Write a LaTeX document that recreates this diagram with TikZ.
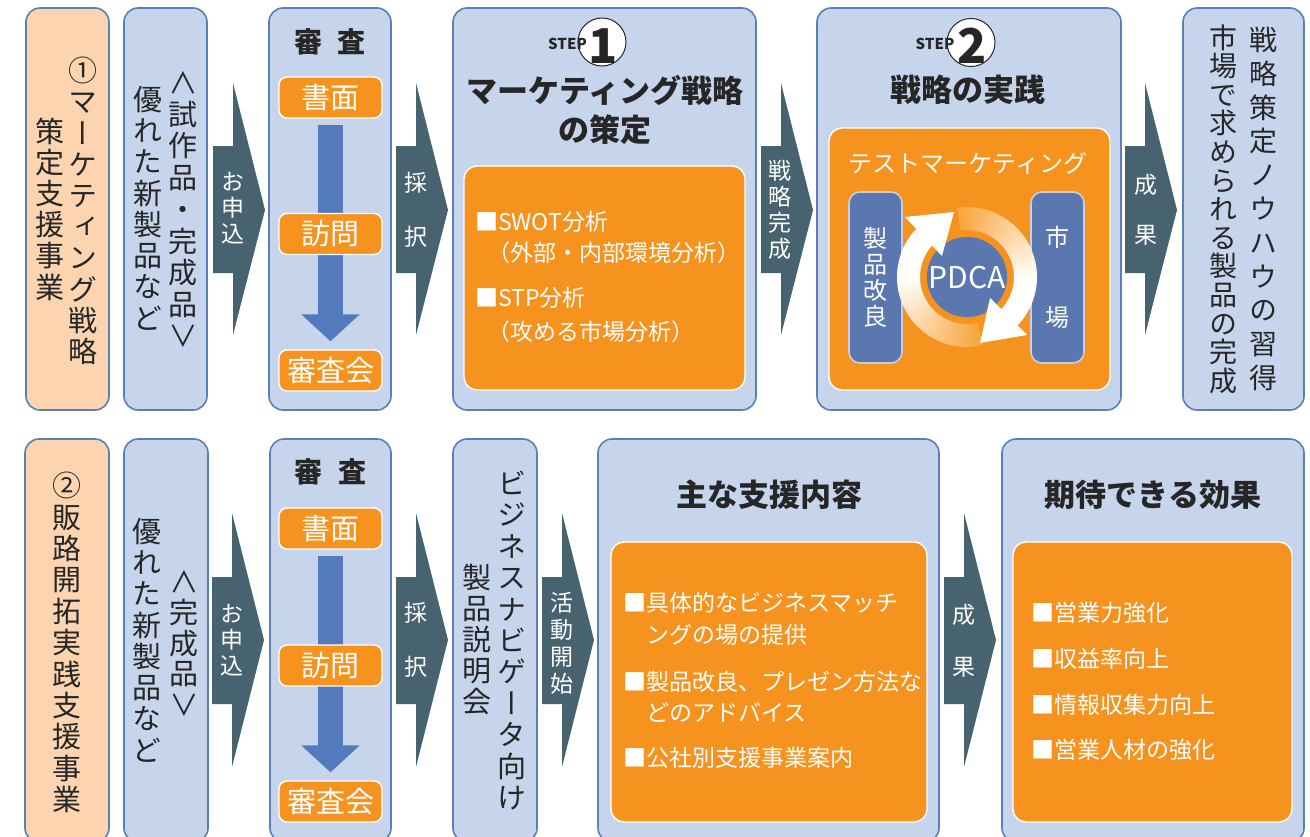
\documentclass[tikz,border=0pt]{standalone}
\usepackage{graphicx}
\usepackage{fontspec}
\setmainfont{Noto Sans CJK JP}
\newfontfamily\tatefont{Noto Sans CJK JP}[RawFeature=+vert]
\usepackage{xcolor}
\usetikzlibrary{arrows.meta}

\definecolor{paleblue}{HTML}{C6D5EC}
\definecolor{edgeblue}{HTML}{5B7EB7}
\definecolor{peach}{HTML}{FCD5B0}
\definecolor{orng}{HTML}{F6921E}
\definecolor{ringor}{HTML}{F9A53A}
\definecolor{slate}{HTML}{46636F}
\definecolor{flowblue}{HTML}{547ABE}
\definecolor{pillblue}{HTML}{5A78AF}
\definecolor{pillrim}{HTML}{C9CFDF}
\definecolor{ink}{HTML}{262626}

\makeatletter
\newcommand\tate[2][31pt]{\vbox{\tatefont\baselineskip=#1\relax\lineskiplimit=-\maxdimen
  \@tfor\tc:=#2\do{\hbox to 1em{\hss\tc\hss}}}}
\makeatother
\newcommand\upang{\rotatebox[origin=c]{-90}{\normalfont ＜}}
\newcommand\downang{\rotatebox[origin=c]{-90}{\normalfont ＞}}

\tikzset{
  frame/.style={draw=edgeblue, line width=1.6pt, rounded corners=14pt, fill=paleblue, inner sep=0pt},
  peachframe/.style={frame, fill=peach},
  panel/.style={draw=white, line width=1.4pt, rounded corners=13pt, fill=orng, inner sep=0pt},
  tag/.style={draw=white, line width=1.4pt, rounded corners=8pt, fill=orng, text=white, inner sep=0pt,
    minimum width=103pt, minimum height=41pt, font=\fontsize{29}{30}\selectfont},
  pill/.style={draw=pillrim, line width=1.6pt, rounded corners=11pt, fill=pillblue, text=white, inner sep=0pt,
    minimum width=53pt, minimum height=171pt, font=\fontsize{24}{26}\selectfont},
  chev/.style={fill=slate},
  vtxt/.style={inner sep=0pt, text=ink, font=\fontsize{29}{31}\selectfont},
  arrtxt/.style={inner sep=0pt, text=white, font=\fontsize{23}{26}\selectfont},
  head/.style={inner sep=0pt, text=ink, font=\bfseries\fontsize{31}{33}\selectfont},
  item/.style={inner sep=0pt, anchor=west, text=white, font=\fontsize{23}{26}\selectfont},
  down/.style={draw=flowblue, line width=25pt, -{Triangle[width=57pt,length=27pt]}},
  badge/.style={circle, draw=ink, line width=1pt, fill=white, minimum size=48pt, inner sep=0pt},
  steptxt/.style={inner sep=0pt, text=ink, font=\bfseries\fontsize{15}{15}\selectfont},
  stepdigit/.style={inner sep=0pt, text=ink, font=\bfseries\fontsize{48}{48}\selectfont},
}

\begin{document}
\begin{tikzpicture}[x=1pt,y=-1pt]
\useasboundingbox (0,0) rectangle (1310,836);
\clip (0,0) rectangle (1310,836);

% upper row
\node[peachframe, minimum width=83pt, minimum height=402pt] (jigyo1) at (67.5,209) {};
\node[frame, minimum width=83pt, minimum height=402pt] (seihin1) at (165.5,209) {};
\node[frame, minimum width=122pt, minimum height=402pt] (shinsa1) at (330,209) {};
\node[frame, minimum width=303pt, minimum height=402pt] (sakutei1) at (604.5,209) {};
\node[frame, minimum width=304pt, minimum height=402pt] (jissen1) at (969,209) {};
\node[frame, minimum width=121pt, minimum height=402pt] (seika1) at (1243.5,209) {};

\foreach \ax in {213,396,761,1125}
  \fill[chev] (\ax,146) -- (\ax+20,146) -- (\ax+20,83) -- (\ax+52,210) -- (\ax+20,335) -- (\ax+20,273) -- (\ax,273) -- cycle;

\node[vtxt] (name1a) at (83,211) {\tate[31.2pt]{①マーケティング戦略}};
\node[vtxt] (name1b) at (50,209) {\tate[31.2pt]{策定支援事業}};
\node[vtxt] (hin1a) at (183,209.5) {\tate[31.7pt]{\upang 試作品・完成品\downang}};
\node[vtxt] (hin1b) at (148,208) {\tate[31.25pt]{優れた新製品など}};

\node[arrtxt] (moshikomi1) at (233,208) {\tate[26pt]{お申込}};
\node[arrtxt] (saitaku1) at (416,210) {\tate[54pt]{採択}};
\node[arrtxt] (kansei1) at (780,209.5) {\tate[26pt]{戦略完成}};
\node[arrtxt] (seikat1) at (1146,210) {\tate[50pt]{成果}};

\node[head, font=\bfseries\fontsize{28}{30}\selectfont] (shinsahead1) at (330,42) {審\hspace{16pt}査};
\node[tag] (shomen1) at (330.5,97.5) {書面};
\node[tag] (kai1) at (330.5,370.5) {審査会};
\draw[down] ([yshift=-6pt]shomen1.south) -- ([yshift=8pt]kai1.north);
\node[tag] (homon1) at (330.5,234) {訪問};

\node[badge] (badge1) at (602,42) {};
\node[steptxt] (steplbl1) at (567.5,44) {STEP};
\node[stepdigit] (stepnum1) at (603.5,46) {1};
\node[head] (sakuteihead1) at (605,90) {マーケティング戦略};
\node[head] (sakuteihead2) at (605,130) {の策定};
\node[panel, minimum width=281pt, minimum height=224pt] (bunseki) at (604.5,278) {};
\node[item] (swot1) at (475,222) {■SWOT分析};
\node[item] (swot2) at (487,253) {（外部・内部環境分析）};
\node[item] (stp1) at (475,298) {■STP分析};
\node[item] (stp2) at (487,332) {（攻める市場分析）};

\node[badge] (badge2) at (971,42.5) {};
\node[steptxt] (steplbl2) at (935,44) {STEP};
\node[stepdigit] (stepnum2) at (972,46) {2};
\node[head] (jissenhead) at (968,90) {戦略の実践};
\node[panel, minimum width=281pt, minimum height=262pt] (testpanel) at (969.5,259) {};
\node[inner sep=0pt, text=white, font=\fontsize{24}{26}\selectfont] (testlbl) at (968,163) {テストマーケティング};
\node[pill] (kairyo) at (875.5,277.5) {\tate[26pt]{製品改良}};
\node[pill] (shijo) at (1057.5,277.5) {\tate[80pt]{市場}};
\node[circle, fill=pillblue, minimum size=80pt, inner sep=0pt, text=white, font=\fontsize{30}{30}\selectfont] (pdca) at (967,277) {PDCA};
\foreach \i in {0,...,39} {
  \pgfmathsetmacro\a{-283+\i*3.65}
  \pgfmathsetmacro\b{\a+4.2}
  \pgfmathtruncatemacro\p{max(0,100-3.6*\i)}
  \fill[ringor!\p!white] (pdca.center) ++(\a:47) arc[start angle=\a, end angle=\b, radius=47]
    -- ++(\b:23) arc[start angle=\b, end angle=\a, radius=70] -- cycle;
  \pgfmathsetmacro\a{-98+\i*3.55}
  \pgfmathsetmacro\b{\a+4.1}
  \fill[ringor!\p!white] (pdca.center) ++(\a:47) arc[start angle=\a, end angle=\b, radius=47]
    -- ++(\b:23) arc[start angle=\b, end angle=\a, radius=70] -- cycle;
}
\fill[white] (905,217) -- (954,212) -- (942,256) -- cycle;
\fill[white] (990,298) -- (1027,335) -- (980,343) -- cycle;

\node[vtxt, font=\fontsize{28}{30}\selectfont] (knowhow) at (1263,209) {\tate[33.8pt]{戦略策定ノウハウの習得}};
\node[vtxt, font=\fontsize{28}{30}\selectfont] (kansei) at (1223,209) {\tate[28.6pt]{市場で求められる製品の完成}};

% lower row
\node[peachframe, minimum width=84pt, minimum height=403pt] (jigyo2) at (67,640.5) {};
\node[frame, minimum width=84pt, minimum height=403pt] (seihin2) at (166,640.5) {};
\node[frame, minimum width=121pt, minimum height=403pt] (shinsa2) at (330.5,640.5) {};
\node[frame, minimum width=84pt, minimum height=403pt] (navi2) at (495,640.5) {};
\node[frame, minimum width=341pt, minimum height=403pt] (naiyo2) at (768.5,640.5) {};
\node[frame, minimum width=302pt, minimum height=403pt] (koka2) at (1153,640.5) {};

\foreach \ax in {212,396,542,944}
  \fill[chev] (\ax,577) -- (\ax+20,577) -- (\ax+20,513) -- (\ax+52,640) -- (\ax+20,767) -- (\ax+20,704) -- (\ax,704) -- cycle;

\node[vtxt] (name2) at (67,642.5) {\tate[31.4pt]{②販路開拓実践支援事業}};
\node[vtxt] (hin2a) at (184,643.5) {\tate[30.6pt]{\upang 完成品\downang}};
\node[vtxt] (hin2b) at (147,640) {\tate[31.25pt]{優れた新製品など}};

\node[arrtxt] (moshikomi2) at (232,640) {\tate[26pt]{お申込}};
\node[arrtxt] (saitaku2) at (416,640) {\tate[54pt]{採択}};
\node[arrtxt] (kaishi2) at (562,643) {\tate[27pt]{活動開始}};
\node[arrtxt] (seikat2) at (964,641) {\tate[52pt]{成果}};

\node[head, font=\bfseries\fontsize{28}{30}\selectfont] (shinsahead2) at (330.5,472) {審\hspace{16pt}査};
\node[tag] (shomen2) at (330.5,528.5) {書面};
\node[tag] (kai2) at (330.5,801.5) {審査会};
\draw[down] ([yshift=-6pt]shomen2.south) -- ([yshift=8pt]kai2.north);
\node[tag] (homon2) at (330.5,665.5) {訪問};

\node[vtxt] (navi2a) at (512,640.5) {\tate[31.4pt]{ビジネスナビゲータ向け}};
\node[vtxt] (navi2b) at (477,639.5) {\tate[31pt]{製品説明会}};

\node[head] (naiyohead) at (769,495) {主な支援内容};
\node[panel, minimum width=316pt, minimum height=280pt] (naiyopanel) at (769,682) {};
\node[item] (naiyo1) at (623,603) {■具体的なビジネスマッチ};
\node[item] (naiyo1b) at (646,635) {ングの場の提供};
\node[item] (naiyo2a) at (623,682) {■製品改良、プレゼン方法な};
\node[item] (naiyo2b) at (646,713) {どのアドバイス};
\node[item] (naiyo3) at (623,758) {■公社別支援事業案内};

\node[head] (kokahead) at (1153,495) {期待できる効果};
\node[panel, minimum width=279pt, minimum height=280pt] (kokapanel) at (1152.5,682) {};
\node[item] (koka1) at (1031,613) {■営業力強化};
\node[item] (koka2t) at (1031,659) {■収益率向上};
\node[item] (koka3) at (1031,705) {■情報収集力向上};
\node[item] (koka4) at (1031,750) {■営業人材の強化};
\end{tikzpicture}
\end{document}
